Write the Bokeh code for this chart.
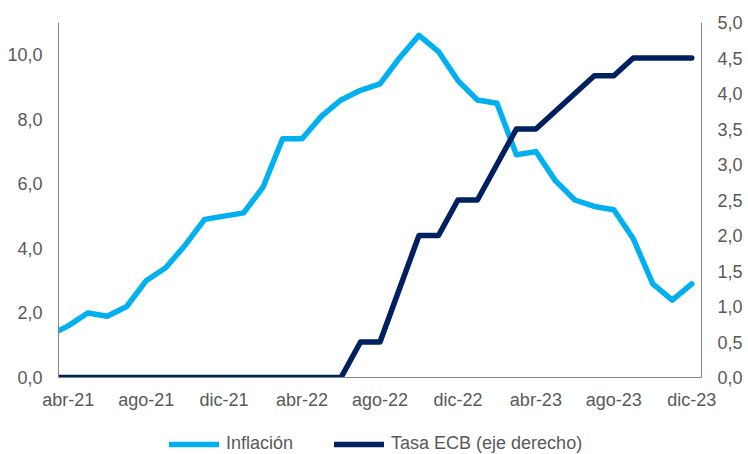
from bokeh.plotting import figure
from bokeh.layouts import column
from bokeh.models import (Range1d, LinearAxis, FixedTicker, CustomJSTickFormatter,
                          Legend, LegendItem, ColumnDataSource)
from bokeh.embed import file_html
from bokeh.resources import INLINE

# ---- data ----
months = ["mar-21", "abr-21", "may-21", "jun-21", "jul-21", "ago-21", "sep-21", "oct-21", "nov-21", "dic-21",
          "ene-22", "feb-22", "mar-22", "abr-22", "may-22", "jun-22", "jul-22", "ago-22", "sep-22", "oct-22",
          "nov-22", "dic-22",
          "ene-23", "feb-23", "mar-23", "abr-23", "may-23", "jun-23", "jul-23", "ago-23", "sep-23", "oct-23",
          "nov-23", "dic-23"]
inflacion = [1.3, 1.6, 2.0, 1.9, 2.2, 3.0, 3.4, 4.1, 4.9, 5.0,
             5.1, 5.9, 7.4, 7.4, 8.1, 8.6, 8.9, 9.1, 9.9, 10.6, 10.1, 9.2,
             8.6, 8.5, 6.9, 7.0, 6.1, 5.5, 5.3, 5.2, 4.3, 2.9, 2.4, 2.9]
tasa_ecb = [0.0, 0.0, 0.0, 0.0, 0.0, 0.0, 0.0, 0.0, 0.0, 0.0,
            0.0, 0.0, 0.0, 0.0, 0.0, 0.0, 0.5, 0.5, 1.25, 2.0, 2.0, 2.5,
            2.5, 3.0, 3.5, 3.5, 3.75, 4.0, 4.25, 4.25, 4.5, 4.5, 4.5, 4.5]
tick_labels = ["abr-21", "ago-21", "dic-21", "abr-22", "ago-22", "dic-22", "abr-23", "ago-23", "dic-23"]
left_ticks = [0, 2, 4, 6, 8, 10]
right_ticks = [0, 0.5, 1, 1.5, 2, 2.5, 3, 3.5, 4, 4.5, 5]
series_names = ["Inflación", "Tasa ECB (eje derecho)"]

FONT = "Liberation Sans"
TXT = "#595959"
AX = "#868686"
LIGHT = "#00B0F0"
NAVY = "#002060"
W = 745

xs = list(range(len(months)))
src = ColumnDataSource(dict(x=xs, inf=inflacion, ecb=tasa_ecb))
first = months.index("abr-21")
last = months.index("dic-23")

p = figure(width=W, height=412, output_backend="svg", toolbar_location=None,
           x_range=Range1d(first - 0.5, last + 0.5), y_range=Range1d(0, 11),
           min_border_left=58, min_border_right=40, min_border_top=22, min_border_bottom=35)
p.extra_y_ranges = {"ecb": Range1d(0, 5)}
p.outline_line_color = None
p.xgrid.visible = False
p.ygrid.visible = False
p.background_fill_color = "white"
p.border_fill_color = "white"

fmt = CustomJSTickFormatter(code="return tick.toFixed(1).replace('.', ',');")

def style_axis(ax, standoff):
    ax.axis_line_color = AX
    ax.axis_line_width = 1
    ax.major_tick_line_color = None
    ax.minor_tick_line_color = None
    ax.major_tick_out = 0
    ax.major_tick_in = 0
    ax.minor_tick_out = 0
    ax.minor_tick_in = 0
    ax.major_label_text_font = FONT
    ax.major_label_text_font_size = "18px"
    ax.major_label_text_color = TXT
    ax.major_label_standoff = standoff

yl = p.yaxis[0]
yl.ticker = FixedTicker(ticks=left_ticks)
yl.formatter = fmt
style_axis(yl, 16)

yr = LinearAxis(y_range_name="ecb", ticker=FixedTicker(ticks=right_ticks), formatter=fmt)
style_axis(yr, 16)
p.add_layout(yr, "right")

xa = p.xaxis[0]
xa.ticker = FixedTicker(ticks=[months.index(m) for m in tick_labels])
xa.major_label_overrides = {months.index(m): m for m in tick_labels}
style_axis(xa, 12)

p.line("x", "inf", source=src, line_color=LIGHT, line_width=5.5,
       line_join="round", line_cap="round")
p.line("x", "ecb", source=src, y_range_name="ecb", line_color=NAVY, line_width=5.5,
       line_join="round", line_cap="round")

# ---- legend strip below the chart (key-only renderers, nothing plotted) ----
lg = figure(width=W, height=41, output_backend="svg", toolbar_location=None,
            x_range=Range1d(0, 1), y_range=Range1d(0, 1),
            x_axis_type=None, y_axis_type=None,
            min_border_left=0, min_border_right=0, min_border_top=0, min_border_bottom=0)
lg.outline_line_color = None
lg.xgrid.visible = False
lg.ygrid.visible = False
nan = float("nan")
k1 = lg.line(x=[nan, nan], y=[nan, nan], line_color=LIGHT, line_width=5.5, line_cap="round")
k2 = lg.line(x=[nan, nan], y=[nan, nan], line_color=NAVY, line_width=5.5, line_cap="round")
legend = Legend(items=[LegendItem(label=series_names[0], renderers=[k1]),
                       LegendItem(label=series_names[1], renderers=[k2])],
                orientation="horizontal", location=(111, -1),
                glyph_width=50, glyph_height=18, label_height=18, label_standoff=7,
                spacing=41, padding=0, margin=0,
                label_text_font=FONT, label_text_font_size="18px", label_text_color=TXT,
                border_line_color=None, background_fill_alpha=0)
lg.add_layout(legend, "center")

layout = column(p, lg, spacing=0)
open("out.html", "w").write(file_html(layout, INLINE))
